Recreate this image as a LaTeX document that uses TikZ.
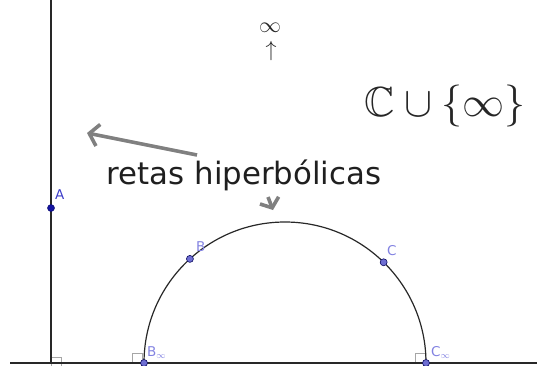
\documentclass[tikz,border=0pt]{standalone}
\usepackage{amssymb}
\usepackage{fontspec}
\newfontfamily\labfont{DejaVu Sans}
\usetikzlibrary{arrows.meta,calc}
\definecolor{ptdark}{RGB}{20,20,160}
\definecolor{ptlight}{RGB}{110,110,210}
\definecolor{lablight}{RGB}{130,130,225}
\definecolor{labA}{RGB}{60,60,200}
\definecolor{linecol}{RGB}{40,40,40}
\definecolor{arrgray}{RGB}{128,128,128}
\tikzset{
  mainline/.style={draw=linecol, line width=1.2pt},
  ptA/.style={circle, fill=ptdark, draw=ptdark!70!black, inner sep=0pt, minimum size=7pt, line width=0.5pt},
  ptB/.style={circle, fill=ptlight, draw=ptdark!60!black, inner sep=0pt, minimum size=7pt, line width=0.6pt},
  plabel/.style={font=\labfont\fontsize{13.5}{15}\selectfont, text=lablight, inner sep=0pt},
  sqmark/.style={draw=black!35, line width=0.6pt, fill=white, minimum size=10pt, inner sep=0pt},
  grayarrow/.style={draw=arrgray, line width=3.6pt, -{Straight Barb[length=9pt, width=22pt, line width=3.6pt]}},
}
\begin{document}
\begin{tikzpicture}[x=1pt, y=-1pt]
\useasboundingbox (0,0) rectangle (537,365);
% axes
\coordinate (hl) at (10,363);
\coordinate (hr) at (537,363);
\coordinate (vt) at (51,0);
\coordinate (vb) at (51,363);
% squares (drawn first)
\node[sqmark] (s1) at (56,362) {};
\node[sqmark] (s2) at (137,358) {};
\node[sqmark] (s3) at (420,358) {};
\draw[mainline] (hl) -- (hr);
\draw[mainline] (vt) -- (vb);
% semicircle
\coordinate (O) at (285,363);
\draw[mainline] ($(O)+(180:141pt)$) arc[start angle=180, end angle=0, radius=141pt];
% points
\node[ptA] (A) at (51,208) {};
\node[plabel, text=labA, anchor=south west] (lA) at (55,200) {A};
\node[ptB] (B) at ($(O)+(132.4:141pt)$) {};
\node[plabel, anchor=south west] (lB) at (196,252) {B};
\node[ptB] (C) at ($(O)+(45.6:141pt)$) {};
\node[plabel, anchor=south west] (lC) at (387,256) {C};
\node[ptB] (Binf) at ($(O)+(180:141pt)$) {};
\node[plabel, anchor=south west] (lBinf) at (147,359) {B$_\infty$};
\node[ptB] (Cinf) at ($(O)+(0:141pt)$) {};
\node[plabel, anchor=south west] (lCinf) at (431,359) {C$_\infty$};
% texts
\node[inner sep=0pt, text=black!85, scale=1.27] (inf) at (270,28) {\LARGE$\infty$};
\node[inner sep=0pt, text=black!85, scale=1.27] (up) at (271,51) {\LARGE$\uparrow$};
\node[inner sep=0pt, text=black!85, scale=1.69] (CC) at (445,106) {\Huge$\mathbb{C}\cup\{\infty\}$};
\node[inner sep=0pt, anchor=base, text=black!88] (retas) at (244,184) {\labfont\fontsize{30.8}{36}\selectfont retas hiperbólicas};
% arrows
\coordinate (a1t) at (197,155);
\coordinate (a1h) at (87,133);
\coordinate (a2t) at (268,197);
\coordinate (a2h) at (273,210);
\draw[grayarrow] (a1t) -- (a1h);
\draw[grayarrow, -{Straight Barb[length=8pt, width=20pt, line width=3.6pt]}] (a2t) -- (a2h);
\end{tikzpicture}
\end{document}
